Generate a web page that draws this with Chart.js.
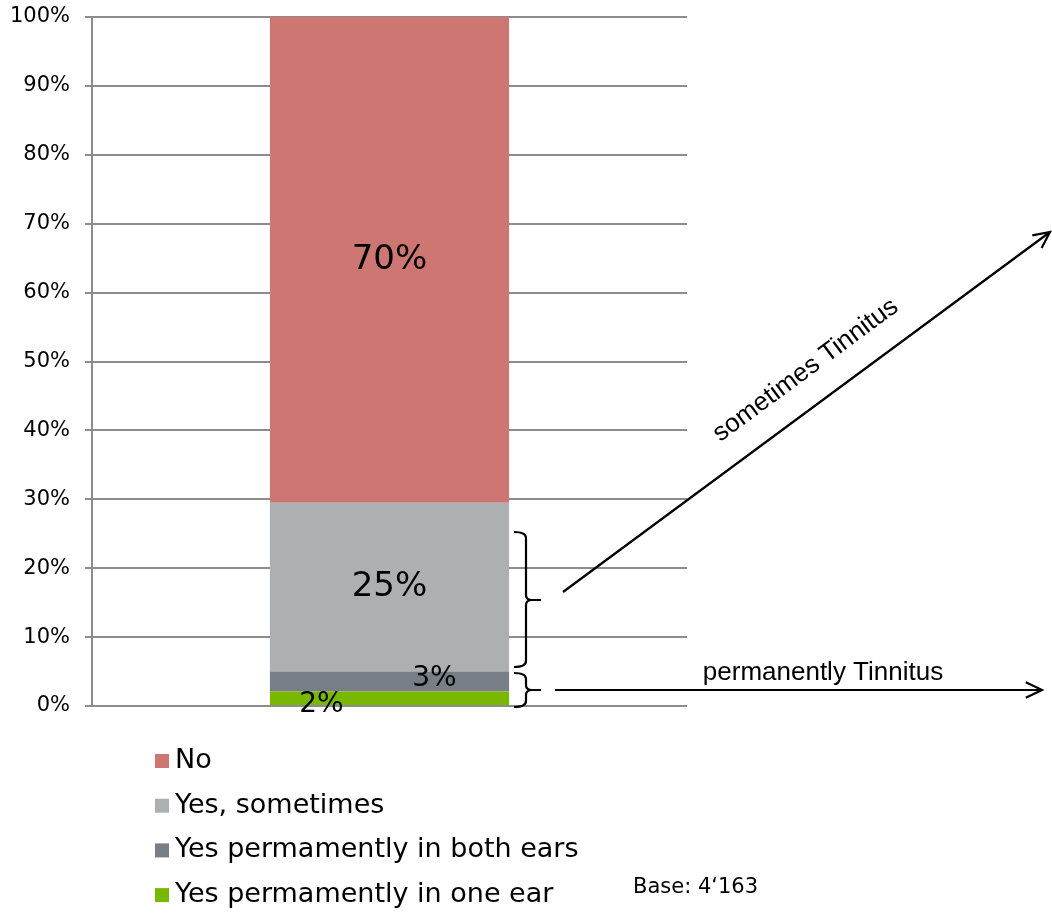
<!DOCTYPE html>
<html>
<head>
<meta charset="utf-8">
<script src="https://cdn.jsdelivr.net/npm/chart.js@4"></script>
<style>
  html, body { margin: 0; padding: 0; background: #fff; }
  #wrap { width: 1052px; height: 913px; }
</style>
</head>
<body>
<div id="wrap"><canvas id="chart" width="1052" height="913"></canvas></div>
<script>
const categories = ['Tinnitus'];
const seriesNames = ['Yes permamently in one ear', 'Yes permamently in both ears', 'Yes, sometimes', 'No'];
const seriesValues = [2.1, 2.9, 24.5, 70.5];
const seriesLabels = ['2%', '3%', '25%', '70%'];
const seriesColors = ['#78b800', '#787e85', '#acb0b2', '#cd7672'];
const yTicks = [0, 10, 20, 30, 40, 50, 60, 70, 80, 90, 100];

// label offsets relative to segment center (as in the original picture)
const labelOffsets = [[-68, 6, 28], [45, -3, 28], [0, 0, 34], [0, 0, 34]];

const FONT = '"DejaVu Sans", Verdana, sans-serif';

const labelsPlugin = {
  id: 'segLabels',
  afterDatasetsDraw(chart) {
    const ctx = chart.ctx;
    ctx.save();
    ctx.fillStyle = '#000';
    ctx.textAlign = 'center';
    ctx.textBaseline = 'middle';
    chart.data.datasets.forEach((ds, i) => {
      const el = chart.getDatasetMeta(i).data[0];
      const cy = (el.y + el.base) / 2;
      const [dx, dy, size] = labelOffsets[i];
      ctx.font = size + 'px ' + FONT;
      ctx.fillText(seriesLabels[i], el.x + dx, cy + dy);
    });
    ctx.restore();
  }
};

function brace(ctx, x, top, bottom, tipY) {
  const w = 12;
  ctx.beginPath();
  ctx.moveTo(x, top);
  ctx.quadraticCurveTo(x + w, top, x + w, top + 6);
  ctx.lineTo(x + w, tipY - 5);
  ctx.quadraticCurveTo(x + w, tipY, x + w + 6, tipY);
  ctx.lineTo(x + w + 15, tipY);
  ctx.moveTo(x + w + 6, tipY);
  ctx.quadraticCurveTo(x + w, tipY, x + w, tipY + 5);
  ctx.lineTo(x + w, bottom - 6);
  ctx.quadraticCurveTo(x + w, bottom, x, bottom);
  ctx.stroke();
}

function arrow(ctx, x1, y1, x2, y2) {
  ctx.beginPath();
  ctx.moveTo(x1, y1);
  ctx.lineTo(x2, y2);
  const a = Math.atan2(y2 - y1, x2 - x1);
  const L = 18;
  ctx.moveTo(x2 - L * Math.cos(a - 0.45), y2 - L * Math.sin(a - 0.45));
  ctx.lineTo(x2, y2);
  ctx.lineTo(x2 - L * Math.cos(a + 0.45), y2 - L * Math.sin(a + 0.45));
  ctx.stroke();
}

const notesPlugin = {
  id: 'notes',
  afterDraw(chart) {
    const ctx = chart.ctx;
    ctx.save();
    ctx.strokeStyle = '#000';
    ctx.lineWidth = 2.2;
    brace(ctx, 514, 532, 667, 600);
    brace(ctx, 514, 673, 707, 690);
    arrow(ctx, 563, 592, 1050, 232);
    arrow(ctx, 555, 690, 1042, 690);

    ctx.fillStyle = '#000';
    ctx.font = '26px "Liberation Sans", Arial, sans-serif';
    ctx.textAlign = 'center';
    ctx.textBaseline = 'alphabetic';
    ctx.fillText('permanently Tinnitus', 823, 680);
    ctx.save();
    ctx.translate(810, 376);
    ctx.rotate(-Math.atan2(592 - 232, 1050 - 563));
    ctx.fillText('sometimes Tinnitus', 0, 0);
    ctx.restore();

    // legend
    ctx.textAlign = 'left';
    ctx.textBaseline = 'middle';
    ctx.font = '27px ' + FONT;
    const order = [3, 2, 1, 0];
    order.forEach((idx, r) => {
      const y = 761 + r * 44.7;
      ctx.fillStyle = seriesColors[idx];
      ctx.fillRect(155, y - 7, 14, 14);
      ctx.fillStyle = '#000';
      ctx.fillText(seriesNames[idx], 175, y);
    });

    ctx.font = '21px ' + FONT;
    ctx.fillText('Base: 4\u2018163', 633, 888);
    ctx.restore();
  }
};

new Chart(document.getElementById('chart'), {
  type: 'bar',
  data: {
    labels: categories,
    datasets: seriesNames.map((name, i) => ({
      label: name,
      data: [seriesValues[i]],
      backgroundColor: seriesColors[i],
      borderWidth: 0,
      categoryPercentage: 1,
      barPercentage: 0.402
    }))
  },
  options: {
    responsive: false,
    animation: false,
    layout: { padding: { top: 17, right: 365, bottom: 207, left: 0 } },
    plugins: { legend: { display: false }, tooltip: { enabled: false } },
    scales: {
      x: {
        stacked: true,
        display: false
      },
      y: {
        stacked: true,
        min: 0,
        max: 100,
        afterFit(scale) {
          scale.width = 92;
          scale.paddingTop = 0;
          scale.paddingBottom = 0;
        },
        afterBuildTicks(scale) { scale.ticks = yTicks.map(v => ({ value: v })); },
        grid: { color: '#8c8c8c', lineWidth: 2, tickLength: 7 },
        border: { color: '#8c8c8c', width: 2 },
        ticks: {
          padding: 15,
          color: '#000',
          font: { family: FONT, size: 21 },
          callback: v => v + '%'
        }
      }
    }
  },
  plugins: [labelsPlugin, notesPlugin]
});
</script>
</body>
</html>
